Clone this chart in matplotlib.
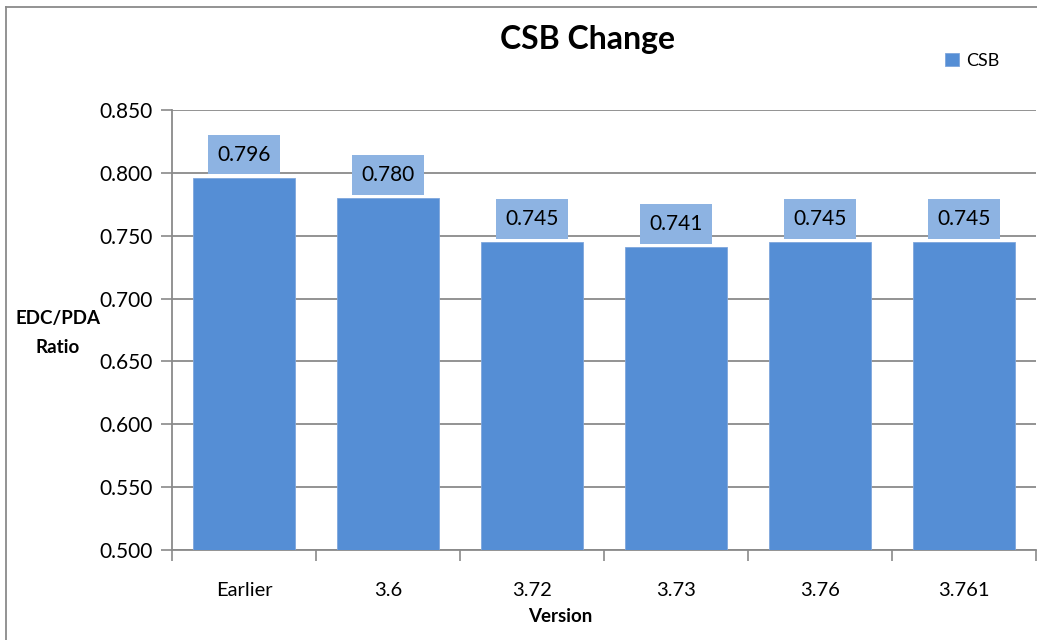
import matplotlib.pyplot as plt
from matplotlib.lines import Line2D

versions = ['Earlier', '3.6', '3.72', '3.73', '3.76', '3.761']
csb = [0.796, 0.780, 0.745, 0.741, 0.745, 0.745]
yticks = [0.500, 0.550, 0.600, 0.650, 0.700, 0.750, 0.800, 0.850]

plt.rcParams['font.family'] = ['Lato', 'DejaVu Sans']
grey = '#8a8a8a'

fig = plt.figure(figsize=(10.37, 6.4), dpi=100)
ax = fig.add_axes([172 / 1037, 1 - 550 / 640, 864 / 1037, 440 / 640])

x = range(len(versions))
ax.bar(x, csb, width=0.71, color='#558ed5', edgecolor='#7fa6dc', linewidth=0.6,
       zorder=3, label='CSB')

for xi, v in zip(x, csb):
    ax.annotate(f'{v:.3f}', (xi, v), xytext=(0, 9.5), textcoords='offset points',
                ha='center', va='bottom', fontsize=15, zorder=4,
                bbox=dict(boxstyle='square,pad=0.47', fc='#8db3e2', ec='none'))

ax.set_xlim(-0.5, len(versions) - 0.5)
ax.set_ylim(0.5, 0.85)
ax.set_yticks(yticks)
ax.set_yticklabels([f'{t:.3f}' for t in yticks], fontsize=15)
ax.yaxis.grid(True, color=grey, linewidth=1.3, zorder=0)

# category labels sit between the boundary ticks
ax.set_xticks([i + 0.5 for i in range(-1, len(versions))])
ax.set_xticklabels([])
ax.set_xticks(list(x), minor=True)
ax.set_xticklabels(versions, minor=True, fontsize=14.5)
ax.tick_params(axis='x', which='minor', length=0, pad=23)
ax.tick_params(axis='x', which='major', length=8, color=grey, width=1.2)
ax.tick_params(axis='y', length=8, color=grey, width=1.2, pad=6)

for side in ['top', 'right']:
    ax.spines[side].set_visible(False)
for side in ['left', 'bottom']:
    ax.spines[side].set_color(grey)
    ax.spines[side].set_linewidth(1.3)

fig.text(587 / 1037, 1 - 40 / 640, 'CSB Change', ha='center', va='center',
         fontsize=23, fontweight='bold')
fig.text(58 / 1037, 1 - 333 / 640, 'EDC/PDA\nRatio', ha='center', va='center',
         fontsize=13.5, fontweight='bold', linespacing=1.85)
fig.text(560 / 1037, 1 - 617 / 640, 'Version', ha='center', va='center',
         fontsize=13.5, fontweight='bold')

leg = fig.legend(loc='center left', bbox_to_anchor=(936 / 1037, 1 - 61 / 640),
                 frameon=False, fontsize=13, handlelength=0.75, handleheight=0.75,
                 handletextpad=0.4, borderpad=0)

# chart border on the left and top
fig.add_artist(Line2D([6 / 1037, 6 / 1037], [0, 1 - 7 / 640],
                      transform=fig.transFigure, color=grey, linewidth=1.3))
fig.add_artist(Line2D([6 / 1037, 1], [1 - 7 / 640, 1 - 7 / 640],
                      transform=fig.transFigure, color=grey, linewidth=1.3))

fig.savefig('out.png', dpi=100)
